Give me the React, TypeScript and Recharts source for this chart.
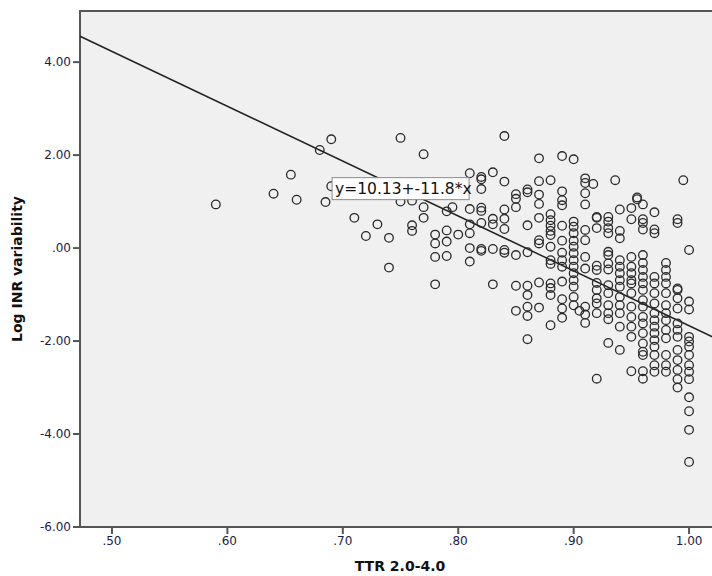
import { ScatterChart, Scatter, XAxis, YAxis, ReferenceArea, ReferenceLine, ReferenceDot } from 'recharts'

// TTR levels and the log INR variability values seen at each level
const ttrLevels = [
  0.59, 0.64, 0.655, 0.66, 0.68, 0.685, 0.69, 0.71, 0.72, 0.73, 0.74, 0.75, 0.76, 0.77, 0.78, 0.79, 0.795, 0.8,
  0.81, 0.82, 0.83, 0.84, 0.85, 0.86, 0.87, 0.88, 0.89, 0.9, 0.905, 0.91, 0.917, 0.92, 0.93, 0.936, 0.94, 0.95,
  0.955, 0.96, 0.97, 0.98, 0.99, 0.995, 1.0,
]

const logInrByTtr: number[][] = [
  [0.94],
  [1.17],
  [1.58],
  [1.04],
  [2.11],
  [0.99],
  [2.34, 1.33],
  [0.65],
  [0.26],
  [0.51],
  [0.22, -0.42],
  [2.37, 1.0],
  [1.02, 0.49, 0.37],
  [2.02, 0.88, 0.65],
  [0.29, 0.1, -0.19, -0.78],
  [0.79, 0.14, -0.17, 0.38],
  [0.88],
  [0.29],
  [1.61, 0.84, 0.51, 0.32, 0.0, -0.29],
  [1.53, 1.48, 1.27, 0.87, 0.8, 0.54, -0.02, -0.06],
  [1.63, 0.63, 0.51, -0.02, -0.78],
  [2.41, 1.43, 0.83, 0.63, 0.41, -0.04, -0.1],
  [1.16, 1.06, 0.88, -0.15, -0.81, -1.35],
  [1.26, 1.2, 0.49, -0.09, -0.81, -1.01, -1.26, -1.46, -1.96],
  [1.93, 1.44, 1.15, 0.95, 0.65, 0.17, 0.1, -0.74, -1.28],
  [1.46, 0.73, 0.6, 0.48, 0.37, 0.28, 0.03, -0.26, -0.34, -0.76, -0.86, -1.01, -1.66],
  [1.98, 1.22, 1.03, 0.92, 0.48, 0.16, -0.1, -0.26, -0.4, -0.72, -1.1, -1.3, -1.5],
  [1.91, 0.57, 0.46, 0.32, 0.16, 0.03, -0.11, -0.26, -0.4, -0.54, -0.69, -0.83, -1.05, -1.23],
  [-1.35],
  [1.5, 1.4, 1.18, 0.94, 0.39, 0.17, -0.19, -0.44, -1.26, -1.43, -1.61],
  [1.38],
  [0.67, 0.65, 0.43, -0.38, -0.47, -0.75, -0.9, -1.08, -1.19, -1.4, -2.81],
  [0.67, 0.57, 0.43, 0.32, -0.08, -0.15, -0.33, -0.46, -0.8, -0.97, -1.23, -1.4, -1.53, -2.04],
  [1.46],
  [0.83, 0.37, 0.21, -0.26, -0.4, -0.54, -0.69, -0.83, -1.05, -1.23, -1.4, -1.69, -2.19],
  [0.86, 0.62, -0.19, -0.4, -0.54, -0.69, -0.76, -0.97, -1.26, -1.48, -1.69, -1.91, -2.65],
  [1.09, 1.05],
  [0.94, 0.62, 0.54, 0.4, -0.15, -0.32, -0.47, -0.62, -0.76, -0.9, -1.12, -1.26, -1.48, -1.62, -1.83, -2.05, -2.23, -2.3, -2.65, -2.81],
  [0.77, 0.4, 0.32, -0.62, -0.76, -0.97, -1.19, -1.4, -1.55, -1.69, -1.83, -1.98, -2.12, -2.3, -2.52, -2.66],
  [-0.32, -0.47, -0.62, -0.76, -0.97, -1.23, -1.4, -1.55, -1.76, -1.94, -2.3, -2.52, -2.66],
  [0.62, 0.54, -0.87, -0.9, -1.08, -1.3, -1.62, -1.76, -1.91, -2.19, -2.41, -2.62, -2.82, -3.0],
  [1.46],
  [-0.04, -1.15, -1.32, -1.91, -2.01, -2.12, -2.3, -2.52, -2.66, -2.82, -3.21, -3.51, -3.91, -4.6],
]

const xTicks = [0.5, 0.6, 0.7, 0.8, 0.9, 1.0]
const yTicks = [-6, -4, -2, 0, 2, 4]

// fit line y = a + b*x
const intercept = 10.13
const slope = -11.8

const X_DOMAIN: [number, number] = [0.4723, 1.0268]
const Y_DOMAIN: [number, number] = [-6, 5.1]

const points = ttrLevels.flatMap((ttr, i) => logInrByTtr[i].map((inr) => ({ ttr, inr })))

const fmt = (v: number) => {
  const s = Math.abs(v).toFixed(2)
  return (v < 0 ? '-' : '') + (s.startsWith('0') ? s.slice(1) : s)
}

const tickStyle = { fontSize: 12, fill: '#1c1c48', fontFamily: 'DejaVu Sans' }

const OpenCircle = (props: any) => (
  <circle cx={props.cx} cy={props.cy} r={4.3} fill="none" stroke="#2a2a2a" strokeWidth={1.3} />
)

const EquationBox = (props: any) => (
  <g>
    <rect x={props.cx} y={props.cy} width={137} height={22} fill="#fff" stroke="#8a8a8a" strokeWidth={1} />
    <text x={props.cx + 3} y={props.cy + 16.5} fontSize={15.5} fontFamily="DejaVu Sans" fill="#111">
      y=10.13+-11.8*x
    </text>
  </g>
)

export default function App() {
  return (
    <div style={{ position: 'fixed', top: 0, left: 0, width: 712, height: 576, overflow: 'hidden', background: '#fff' }}>
      <ScatterChart width={730} height={576} margin={{ top: 11, right: 10, bottom: 0, left: 0 }}>
        <ReferenceArea
          x1={X_DOMAIN[0]}
          x2={X_DOMAIN[1]}
          y1={Y_DOMAIN[0]}
          y2={Y_DOMAIN[1]}
          fill="#f0f0f0"
          fillOpacity={1}
          stroke="#555"
          strokeWidth={2}
        />
        <XAxis
          type="number"
          dataKey="ttr"
          domain={X_DOMAIN}
          ticks={xTicks}
          tickFormatter={fmt}
          height={49}
          tick={tickStyle}
          tickSize={7}
          axisLine={false}
          tickLine={{ stroke: '#555', strokeWidth: 2 }}
          allowDataOverflow
        />
        <YAxis
          type="number"
          dataKey="inr"
          domain={Y_DOMAIN}
          ticks={yTicks}
          tickFormatter={fmt}
          width={80}
          tick={tickStyle}
          tickSize={7}
          axisLine={false}
          tickLine={{ stroke: '#555', strokeWidth: 2 }}
          allowDataOverflow
        />
        <Scatter data={points} shape={OpenCircle} isAnimationActive={false} />
        <ReferenceLine
          segment={[
            { x: X_DOMAIN[0], y: intercept + slope * X_DOMAIN[0] },
            { x: X_DOMAIN[1], y: intercept + slope * X_DOMAIN[1] },
          ]}
          stroke="#222"
          strokeWidth={1.5}
        />
        <ReferenceDot x={0.6907} y={1.515} r={0} shape={EquationBox} />
        <text x={436} y={50} textAnchor="middle" fontSize={15.5} fontFamily="DejaVu Sans" fill="#111">
          pearson r = -0.66; p &gt;0.001
        </text>
        <text x={436} y={85} textAnchor="middle" fontSize={15.5} fontFamily="DejaVu Sans" fill="#111">
          spearman r = 0.71; p &gt;0.001
        </text>
        <text x={22} y={269} transform="rotate(-90 22 269)" textAnchor="middle" fontSize={14} fontWeight="bold" fontFamily="DejaVu Sans" fill="#111">
          Log INR variability
        </text>
        <text x={400} y={571} textAnchor="middle" fontSize={14} fontWeight="bold" fontFamily="DejaVu Sans" fill="#111">
          TTR 2.0-4.0
        </text>
      </ScatterChart>
    </div>
  )
}
